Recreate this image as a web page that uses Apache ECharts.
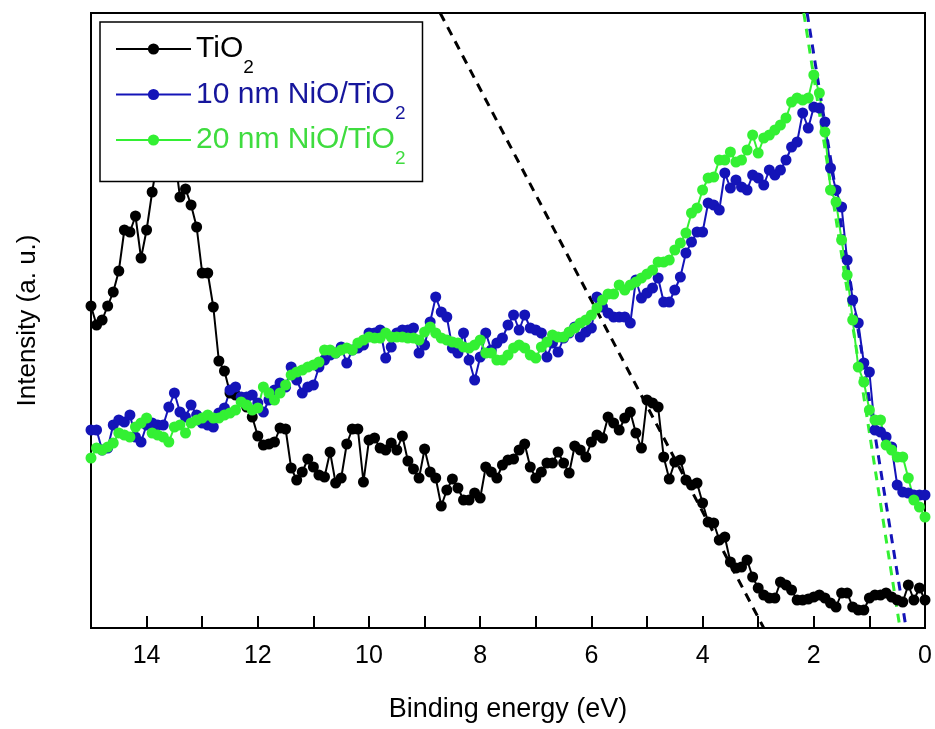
<!DOCTYPE html>
<html>
<head>
<meta charset="utf-8">
<script src="https://cdn.jsdelivr.net/npm/echarts@6/dist/echarts.min.js"></script>
<style>
html,body{margin:0;padding:0;background:#fff;}
#chart{width:935px;height:729px;}
</style>
</head>
<body>
<div id="chart"></div>
<script>
// Binding energy (eV), 15.0 -> 0.0
const energies = [
15.0,14.9,14.8,14.7,14.6,14.5,14.4,14.3,14.2,14.1,
14.0,13.9,13.8,13.7,13.6,13.5,13.4,13.3,13.2,13.1,
13.0,12.9,12.8,12.7,12.6,12.5,12.4,12.3,12.2,12.1,
12.0,11.9,11.8,11.7,11.6,11.5,11.4,11.3,11.2,11.1,
11.0,10.9,10.8,10.7,10.6,10.5,10.4,10.3,10.2,10.1,
10.0,9.9,9.8,9.7,9.6,9.5,9.4,9.3,9.2,9.1,
9.0,8.9,8.8,8.7,8.6,8.5,8.4,8.3,8.2,8.1,
8.0,7.9,7.8,7.7,7.6,7.5,7.4,7.3,7.2,7.1,
7.0,6.9,6.8,6.7,6.6,6.5,6.4,6.3,6.2,6.1,
6.0,5.9,5.8,5.7,5.6,5.5,5.4,5.3,5.2,5.1,
5.0,4.9,4.8,4.7,4.6,4.5,4.4,4.3,4.2,4.1,
4.0,3.9,3.8,3.7,3.6,3.5,3.4,3.3,3.2,3.1,
3.0,2.9,2.8,2.7,2.6,2.5,2.4,2.3,2.2,2.1,
2.0,1.9,1.8,1.7,1.6,1.5,1.4,1.3,1.2,1.1,
1.0,0.9,0.8,0.7,0.6,0.5,0.4,0.3,0.2,0.1,
0.0
];

// Intensity (arbitrary units)
const tio2 = [
322,303,308,322,336,357,398,396,412,370,
398,436,470,500,505,475,431,439,423,401,
355,355,321,267,257,235,233,230,221,211,
192,183,184,186,200,199,160,148,156,169,
161,153,151,176,145,150,184,199,199,146,
188,190,180,178,185,178,192,167,159,150,
179,156,150,122,138,149,140,128,128,135,
130,161,156,150,163,168,169,178,184,161,
150,156,165,165,176,165,155,182,178,171,
186,193,190,211,205,198,210,216,195,180,
228,225,221,171,149,166,168,148,143,145,
125,106,105,88,91,66,60,61,68,51,
40,33,30,30,46,43,38,28,28,29,
31,33,30,25,21,35,35,21,18,18,
30,33,33,35,31,28,26,43,28,40,
28
];

const nio10 = [
198,198,178,180,203,208,206,213,191,186,
203,205,203,203,221,235,216,211,223,213,
205,203,201,215,220,238,241,231,231,233,
225,216,228,238,245,241,261,248,235,241,
243,261,268,273,275,281,265,278,280,283,
295,295,298,270,281,295,298,298,300,275,
283,306,331,316,311,280,275,295,268,248,
271,295,278,285,290,303,313,298,313,300,
298,295,271,285,276,290,295,301,291,296,
300,331,321,315,311,311,311,305,348,330,
335,340,350,326,326,338,351,375,386,396,
396,425,423,418,455,440,448,441,438,453,
450,443,458,453,458,468,481,486,515,500,
521,520,506,460,438,421,368,328,305,265,
256,198,196,191,181,143,136,135,133,133,
133
];

const nio20 = [
170,180,178,181,185,195,193,191,201,205,
210,195,193,191,186,201,203,195,205,208,
210,213,210,210,213,215,218,226,223,218,
220,241,235,228,235,243,253,256,258,261,
263,266,278,278,275,278,280,278,285,288,
291,290,290,295,291,291,291,290,290,288,
296,301,295,290,288,286,285,281,280,283,
288,275,275,268,268,273,280,283,280,273,
270,281,286,293,291,291,296,300,305,308,
313,320,328,334,334,343,338,343,346,350,
354,358,366,366,368,378,385,395,415,420,
438,450,451,468,468,476,466,468,478,493,
475,490,493,498,503,510,526,530,528,530,
553,535,496,438,426,388,353,308,261,246,
218,208,208,183,178,171,171,150,128,121,
111
];

// Linear extrapolation lines: [energy, intensity] endpoints
const fitTiO2 = [[8.72, 615], [2.90, 0]];
const fit10 = [[2.12, 615], [0.34, 0]];
const fit20 = [[2.18, 615], [0.45, 0]];

const seriesNames = ['TiO2', '10 nm NiO/TiO2', '20 nm NiO/TiO2'];
const xTicks = [0, 2, 4, 6, 8, 10, 12, 14];

const FONT = 'Arial, "Liberation Sans", sans-serif';
const BLACK = '#000000', BLUE = '#1414b8', GREEN = '#33f033';
const BLUE_TXT = '#16169c', GREEN_TXT = '#3fdc3f';

function pairs(xs, ys) { return xs.map((x, i) => [x, ys[i]]); }

function dataSeries(name, values, color) {
  return {
    name: name, type: 'line', data: pairs(energies, values),
    symbol: 'circle', symbolSize: 11, showSymbol: true,
    lineStyle: { color: color, width: 2 },
    itemStyle: { color: color },
    emphasis: { disabled: true }, animation: false, clip: true
  };
}
function fitSeries(values, color) {
  return {
    type: 'line', data: values, symbol: 'none',
    lineStyle: { color: color, width: 3, type: [9, 7] },
    emphasis: { disabled: true }, animation: false, clip: true, z: 3
  };
}
function legendItem(name, color) {
  return {
    name: name,
    textStyle: {
      color: color, fontSize: 30, fontFamily: FONT,
      rich: { s: { color: color, fontSize: 19, fontFamily: FONT, padding: [38, 0, 0, 0] } }
    }
  };
}

const chart = echarts.init(document.getElementById('chart'), null, { renderer: 'canvas' });
chart.setOption({
  animation: false,
  backgroundColor: '#ffffff',
  grid: { left: 91, right: 10, top: 13, bottom: 101, show: true, borderColor: '#000', borderWidth: 2, backgroundColor: 'transparent' },
  xAxis: {
    type: 'value', min: 0, max: 15, interval: 1, inverse: true,
    name: 'Binding energy (eV)', nameLocation: 'middle', nameGap: 68,
    nameTextStyle: { fontSize: 27, color: '#000', fontFamily: FONT },
    axisLine: { show: true, lineStyle: { color: '#000', width: 2 } },
    axisTick: { show: true, inside: true, length: 12, lineStyle: { color: '#000', width: 2 } },
    axisLabel: { fontSize: 25, color: '#000', fontFamily: FONT, margin: 16,
      formatter: v => (xTicks.indexOf(v) >= 0 ? String(v) : '') },
    splitLine: { show: false }
  },
  yAxis: {
    type: 'value', min: 0, max: 615,
    name: 'Intensity (a. u.)', nameLocation: 'middle', nameGap: 50,
    nameTextStyle: { fontSize: 26, color: '#000', fontFamily: FONT },
    axisLine: { show: true, lineStyle: { color: '#000', width: 2 } },
    axisTick: { show: false }, axisLabel: { show: false }, splitLine: { show: false }
  },
  legend: {
    orient: 'vertical', left: 100, top: 22, padding: [12, 17, 13, 15], itemGap: 2,
    backgroundColor: '#ffffff', borderColor: '#000', borderWidth: 1.5, borderRadius: 0,
    itemWidth: 75, itemHeight: 14, selectedMode: false, z: 5,
    textStyle: { fontSize: 30, fontFamily: FONT },
    formatter: n => n.replace(/TiO2$/, 'TiO{s|2}'),
    data: [legendItem(seriesNames[0], BLACK), legendItem(seriesNames[1], BLUE_TXT), legendItem(seriesNames[2], GREEN_TXT)]
  },
  series: [
    dataSeries(seriesNames[0], tio2, BLACK),
    dataSeries(seriesNames[1], nio10, BLUE),
    dataSeries(seriesNames[2], nio20, GREEN),
    fitSeries(fitTiO2, BLACK),
    fitSeries(fit10, BLUE),
    fitSeries(fit20, GREEN)
  ]
});
</script>
</body>
</html>
